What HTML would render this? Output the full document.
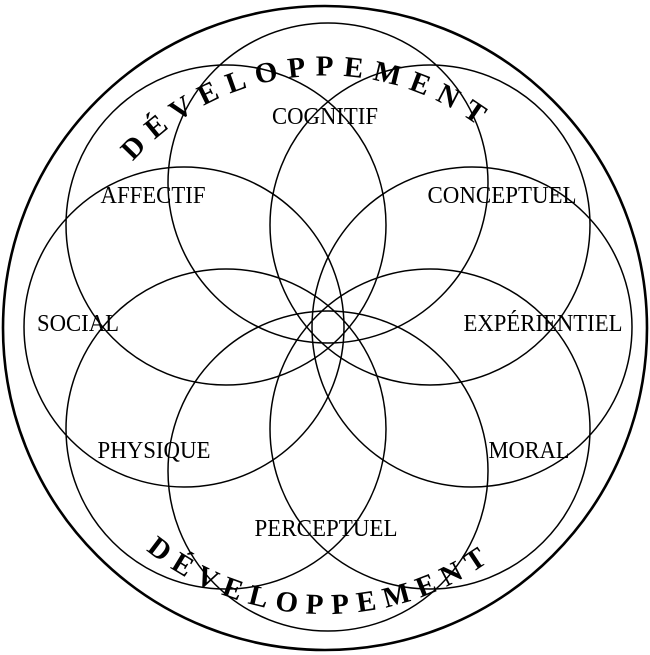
<!DOCTYPE html>
<html><head><meta charset="utf-8"><style>
html,body{margin:0;padding:0;background:#fff;}
svg{display:block;}
</style></head><body>
<svg width="650" height="655" viewBox="0 0 650 655" xmlns="http://www.w3.org/2000/svg">
<circle cx="325" cy="328" r="322" fill="none" stroke="#000" stroke-width="2.6"/>
<g fill="none" stroke="#000" stroke-width="1.5">
<circle cx="328" cy="183" r="160"/>
<circle cx="226" cy="225" r="160"/>
<circle cx="430" cy="225" r="160"/>
<circle cx="184" cy="327" r="160"/>
<circle cx="472" cy="327" r="160"/>
<circle cx="226" cy="429" r="160"/>
<circle cx="430" cy="429" r="160"/>
<circle cx="328" cy="471" r="160"/>
</g>
<defs>
<path id="top" d="M 68 354 A 258 258 0 0 1 581 300"/>
<path id="bot" d="M 43 322 A 282 282 0 0 0 607 342"/>
</defs>
<g font-family="Liberation Serif, serif" font-size="24" fill="#000" text-anchor="middle">
<text x="325" y="124" textLength="106" lengthAdjust="spacingAndGlyphs">COGNITIF</text>
<text x="153" y="203" textLength="105" lengthAdjust="spacingAndGlyphs">AFFECTIF</text>
<text x="502" y="203" textLength="149" lengthAdjust="spacingAndGlyphs">CONCEPTUEL</text>
<text x="78" y="331" textLength="82" lengthAdjust="spacingAndGlyphs">SOCIAL</text>
<text x="543" y="331" textLength="159" lengthAdjust="spacingAndGlyphs">EXPÉRIENTIEL</text>
<text x="154" y="458" textLength="113" lengthAdjust="spacingAndGlyphs">PHYSIQUE</text>
<text x="529" y="458" textLength="81" lengthAdjust="spacingAndGlyphs">MORAL</text>
<text x="326" y="536" textLength="143" lengthAdjust="spacingAndGlyphs">PERCEPTUEL</text>
</g>
<g font-family="Liberation Serif, serif" font-size="29" font-weight="bold" fill="#000">
<text><textPath href="#top" startOffset="50%" text-anchor="middle" textLength="380" lengthAdjust="spacing">DÉVELOPPEMENT</textPath></text>
<text><textPath href="#bot" startOffset="50%" text-anchor="middle" textLength="368" lengthAdjust="spacing">DÉVELOPPEMENT</textPath></text>
</g>
</svg>
</body></html>
